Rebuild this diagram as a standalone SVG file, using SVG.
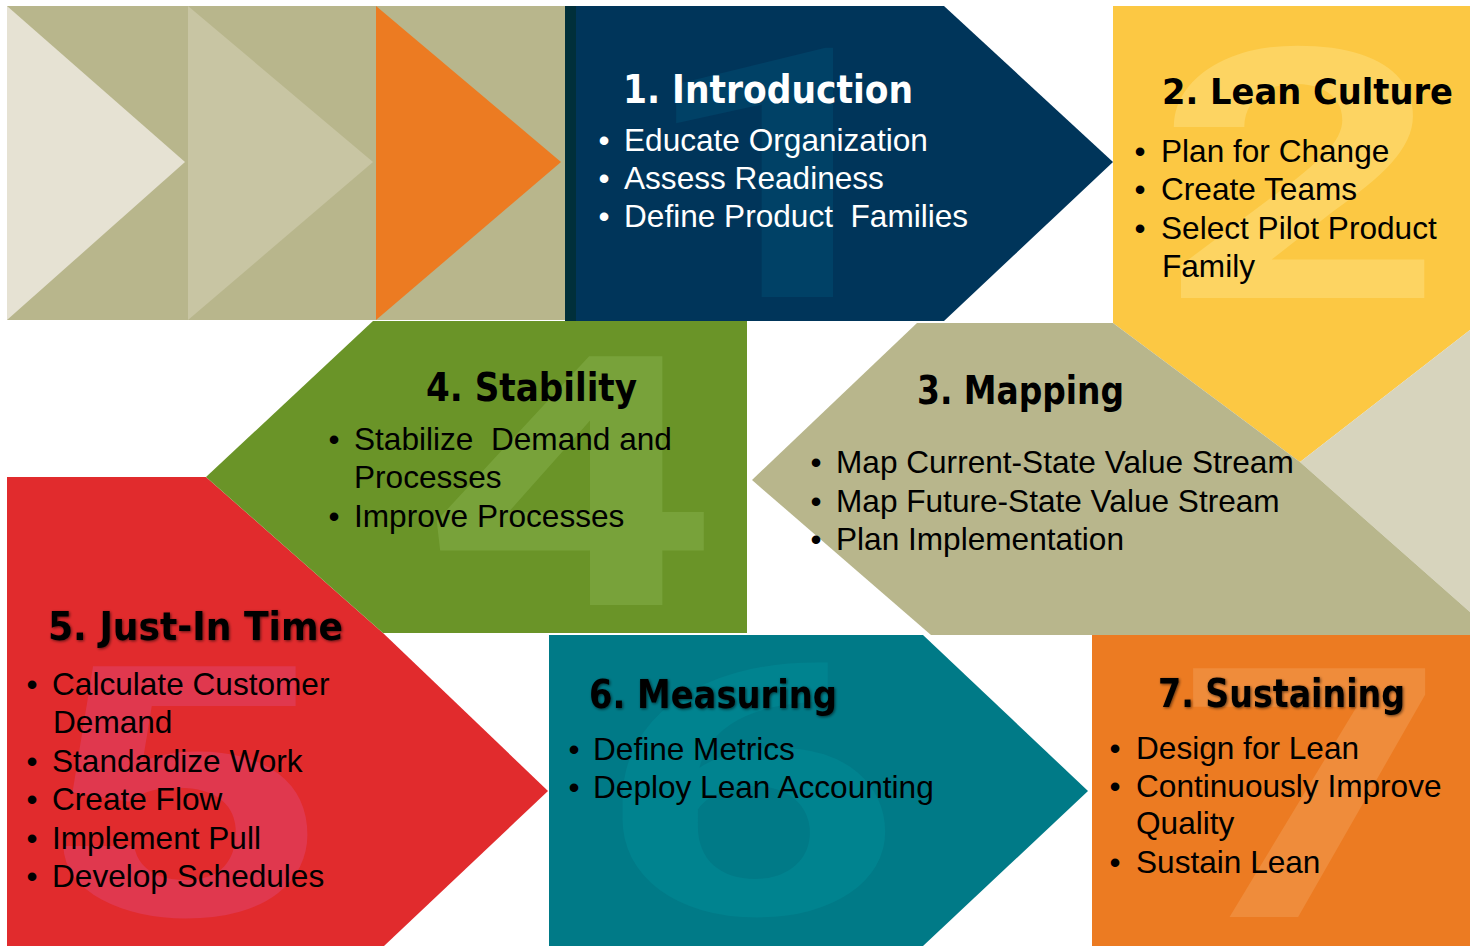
<svg xmlns="http://www.w3.org/2000/svg" width="1470" height="946" viewBox="0 0 1470 946">
<defs>
<style>
.body{font-family:"Liberation Sans",Arial,sans-serif;font-size:31.6px}
.bul{font-family:"Liberation Sans",Arial,sans-serif;font-size:31.6px;text-anchor:middle}
.title{font-family:"DejaVu Sans Condensed","DejaVu Sans",sans-serif;font-weight:bold;font-size:39px}
.wm{font-family:Roboto,"Liberation Sans",Arial,sans-serif;font-weight:bold;font-size:350px;text-anchor:middle}
.w{fill:#ffffff}
.k{fill:#000000}
</style>
<filter id="glow" x="-10%" y="-30%" width="120%" height="160%">
<feGaussianBlur in="SourceAlpha" stdDeviation="1.6"/>
<feOffset dx="1" dy="1" result="b"/>
<feComponentTransfer><feFuncA type="linear" slope="0.6"/></feComponentTransfer>
<feMerge><feMergeNode/><feMergeNode in="SourceGraphic"/></feMerge>
</filter>
<clipPath id="clip3"><polygon points="752,480 917,323 1113,323 1300,462 1470,612 1470,635 931,635"/></clipPath>
</defs>
<rect x="0" y="0" width="1470" height="946" fill="#ffffff"/>

<g id="deco-chevrons">
<rect x="7" y="6" width="558" height="314" fill="#b8b68c"/>
<polygon points="7,6 185,162 7,320" fill="#e6e2d3"/>
<polygon points="188,6 373,162 188,320" fill="#c8c5a3"/>
<polygon points="376,6 561,162 376,320" fill="#ec7b22"/>
</g>

<g id="n1">
<polygon points="576,6 944,6 1113,162 944,321 576,321" fill="#00355a"/>
<rect x="565" y="6" width="11" height="315" fill="#002f3a"/>
<text class="wm" fill="#004166" transform="translate(780,297) scale(1.45,1)">1</text>
<text class="title w" x="623" y="103" font-size="41" textLength="290" lengthAdjust="spacingAndGlyphs">1. Introduction</text>
<text class="bul w" x="604" y="151">•</text><text class="body w" x="624" y="151">Educate Organization</text>
<text class="bul w" x="604" y="189">•</text><text class="body w" x="624" y="189">Assess Readiness</text>
<text class="bul w" x="604" y="227">•</text><text class="body w" x="624" y="227" xml:space="preserve">Define Product  Families</text>
</g>

<g id="n2">
<polygon points="1113,6 1470,6 1470,330 1300,462 1113,323" fill="#fcc843"/>
<text class="wm" fill="#fdd462" transform="translate(1300,298) scale(1.43,1)">2</text>
<text class="k" x="1162" y="104" font-family="'DejaVu Sans',sans-serif" font-weight="bold" font-size="36" textLength="291" lengthAdjust="spacingAndGlyphs">2. Lean Culture</text>
<text class="bul k" x="1140" y="162">•</text><text class="body k" x="1161" y="162">Plan for Change</text>
<text class="bul k" x="1140" y="200">•</text><text class="body k" x="1161" y="200">Create Teams</text>
<text class="bul k" x="1140" y="239">•</text><text class="body k" x="1161" y="239">Select Pilot Product</text>
<text class="body k" x="1162" y="277">Family</text>
</g>

<g id="deco-right">
<polygon points="1300,462 1470,330 1470,612" fill="#d7d4bd"/>
</g>

<g id="n3">
<polygon points="752,480 917,323 1113,323 1300,462 1470,612 1470,635 931,635" fill="#b8b68c"/>
<text class="wm" fill="#c4c2a0" clip-path="url(#clip3)" transform="translate(1082,610) scale(1.49,1)">3</text>
<text class="title k" x="917" y="404" font-size="38" textLength="207" lengthAdjust="spacingAndGlyphs">3. Mapping</text>
<text class="bul k" x="816" y="473">•</text><text class="body k" x="836" y="473">Map Current-State Value Stream</text>
<text class="bul k" x="816" y="512">•</text><text class="body k" x="836" y="512">Map Future-State Value Stream</text>
<text class="bul k" x="816" y="550">•</text><text class="body k" x="836" y="550">Plan Implementation</text>
</g>

<g id="n5">
<polygon points="7,477 206,477 383,633 548,791 384,946 7,946" fill="#e12b2d"/>
<text class="wm" fill="#e0384e" transform="translate(183,915) scale(1.45,1)">5</text>
<text class="title k" x="48" y="640" font-size="38" textLength="295" lengthAdjust="spacingAndGlyphs" filter="url(#glow)">5. Just-In Time</text>
<text class="bul k" x="32" y="695">•</text><text class="body k" x="52" y="695">Calculate Customer</text>
<text class="body k" x="53" y="733">Demand</text>
<text class="bul k" x="32" y="772">•</text><text class="body k" x="52" y="772">Standardize Work</text>
<text class="bul k" x="32" y="810">•</text><text class="body k" x="52" y="810">Create Flow</text>
<text class="bul k" x="32" y="849">•</text><text class="body k" x="52" y="849">Implement Pull</text>
<text class="bul k" x="32" y="887">•</text><text class="body k" x="52" y="887">Develop Schedules</text>
</g>

<g id="n4">
<polygon points="373,321 747,321 747,633 383,633 206,477" fill="#6a9428"/>
<text class="wm" fill="#78a23a" transform="translate(570,605) scale(1.47,1)">4</text>
<text class="title k" x="426" y="401" font-size="38" textLength="211" lengthAdjust="spacingAndGlyphs">4. Stability</text>
<text class="bul k" x="334" y="450">•</text><text class="body k" x="354" y="450" xml:space="preserve">Stabilize  Demand and</text>
<text class="body k" x="354" y="488">Processes</text>
<text class="bul k" x="334" y="527">•</text><text class="body k" x="354" y="527">Improve Processes</text>
</g>

<g id="n6">
<polygon points="549,635 923,635 1088,791 923,946 549,946" fill="#007a87"/>
<text class="wm" fill="#00838f" transform="translate(750,914) scale(1.53,1)">6</text>
<text class="title k" x="589" y="708" font-size="38" textLength="248" lengthAdjust="spacingAndGlyphs" filter="url(#glow)">6. Measuring</text>
<text class="bul k" x="574" y="760">•</text><text class="body k" x="593" y="760">Define Metrics</text>
<text class="bul k" x="574" y="798">•</text><text class="body k" x="593" y="798">Deploy Lean Accounting</text>
</g>

<g id="n7">
<rect x="1092" y="635" width="378" height="311" fill="#ec7b22"/>
<text class="wm" fill="#ef8c3b" transform="translate(1312,917) scale(1.32,1)">7</text>
<text class="title k" x="1158" y="707" font-size="38" textLength="247" lengthAdjust="spacingAndGlyphs" filter="url(#glow)">7. Sustaining</text>
<text class="bul k" x="1115" y="759">•</text><text class="body k" x="1136" y="759">Design for Lean</text>
<text class="bul k" x="1115" y="797">•</text><text class="body k" x="1136" y="797">Continuously Improve</text>
<text class="body k" x="1136" y="834">Quality</text>
<text class="bul k" x="1115" y="873">•</text><text class="body k" x="1136" y="873">Sustain Lean</text>
</g>

<g id="connectors"></g>
</svg>
